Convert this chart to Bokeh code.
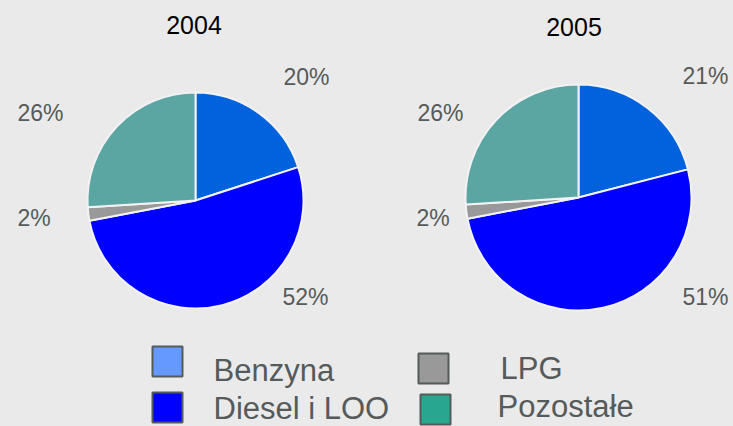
import math
from bokeh.plotting import figure
from bokeh.models import Range1d, ColumnDataSource
from bokeh.core.properties import value
from bokeh.embed import file_html
from bokeh.resources import INLINE

# ---- data ----
categories = ["Benzyna", "Diesel i LOO", "LPG", "Pozostałe"]
years = ["2004", "2005"]
share_2004 = [20, 52, 2, 26]
share_2005 = [21, 51, 2, 26]
pie_colors = ["#0062dd", "#0000ff", "#999999", "#5ba6a2"]
legend_colors = ["#6699ff", "#0000ff", "#999999", "#29a690"]

BG = "#eaeaea"
TXT = "#555a5a"
FONT = value("Liberation Sans")

W, H = 733, 426
p = figure(width=W, height=H, output_backend="svg",
           toolbar_location=None, min_border=0,
           x_range=Range1d(0, W), y_range=Range1d(0, H))
p.axis.visible = False
p.grid.visible = False
p.outline_line_color = None
p.background_fill_color = BG
p.border_fill_color = BG

def Y(py):
    # pixel row -> data y
    return H - py

# layout: pie centre, radius, title centre, label positions (left x, middle y)
layouts = [
    dict(cx=195, cy=200, r=108, tx=193.5, ty=24,
         lab=[(283, 76), (282, 296), (17, 217), (17, 112)]),
    dict(cx=578, cy=197, r=113, tx=573.5, ty=26.5,
         lab=[(682, 75.5), (682, 296), (416, 217), (417, 112)]),
]

for year, shares, lay in zip(years, [share_2004, share_2005], layouts):
    total = float(sum(shares))
    cum = 0.0
    starts, ends = [], []
    for s in shares:
        before = cum
        cum += s
        starts.append(math.radians(90 - cum / total * 360))
        ends.append(math.radians(90 - before / total * 360))
    src = ColumnDataSource(dict(start=starts, end=ends, color=pie_colors))
    p.wedge(x=lay["cx"], y=Y(lay["cy"]), radius=lay["r"], radius_units="screen",
            start_angle="start", end_angle="end", direction="anticlock",
            fill_color="color", line_color="#f2f2f2", line_width=2, source=src)
    p.text(x=[lay["tx"]], y=[Y(lay["ty"])], text=[year], text_font=FONT,
           text_font_size="25px", text_color="#000000", text_align="center",
           text_baseline="middle")
    labs = ColumnDataSource(dict(
        x=[q[0] for q in lay["lab"]],
        y=[Y(q[1]) for q in lay["lab"]],
        t=["%d%%" % s for s in shares]))
    p.text(x="x", y="y", text="t", source=labs, text_font=FONT,
           text_font_size="23px", text_color=TXT, text_align="left",
           text_baseline="middle")

# legend (box top-left, text left x / middle y); lifted a little to stay inside the page
LIFT = 5
leg_pos = [((152, 351), (213, 375)), ((152, 397), (213, 413)),
           ((418, 358), (500, 373)), ((420, 399), (497, 411))]
SQ = 30
for name, col, (bx, tx) in zip(categories, legend_colors, leg_pos):
    p.rect(x=[bx[0] + SQ / 2], y=[Y(bx[1] - LIFT + SQ / 2)], width=SQ, height=SQ,
           fill_color=col, line_color=TXT, line_width=2)
    p.text(x=[tx[0]], y=[Y(tx[1] - LIFT)], text=[name], text_font=FONT,
           text_font_size="31px", text_color=TXT, text_align="left",
           text_baseline="middle")

html = file_html(p, INLINE)
html = html.replace("</head>", "<style>html, body { background: %s; }</style></head>" % BG, 1)
open("out.html", "w").write(html)
